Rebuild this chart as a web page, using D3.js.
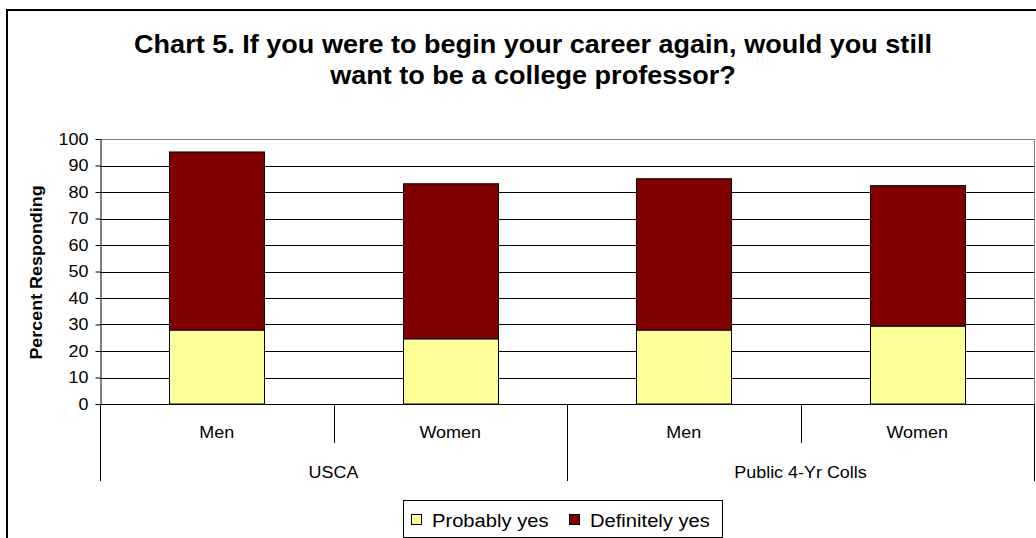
<!DOCTYPE html>
<html>
<head>
<meta charset="utf-8">
<script src="https://cdn.jsdelivr.net/npm/d3@7"></script>
<style>
  html, body { margin: 0; padding: 0; background: #fff; }
  svg { display: block; font-family: "Liberation Sans", Arial, sans-serif; }
</style>
</head>
<body>
<svg id="chart" width="1036" height="538"></svg>
<script>
// Survey responses, percent of faculty
const groups = ["USCA", "USCA", "Public 4-Yr Colls", "Public 4-Yr Colls"];
const genders = ["Men", "Women", "Men", "Women"];
const probablyYes = [27.9, 24.6, 27.9, 29.4];
const definitelyYes = [67.2, 58.5, 57.1, 53.0];
const seriesNames = ["Probably yes", "Definitely yes"];
const seriesColors = ["#FFFF99", "#800000"];
const yTicks = [0, 10, 20, 30, 40, 50, 60, 70, 80, 90, 100];
const titleLines = [
  "Chart 5. If you were to begin your career again, would you still",
  "want to be a college professor?"
];

const svg = d3.select("#chart");
const W = 1036, H = 538;
const plot = { left: 100, right: 1034, top: 139, bottom: 404 };

// Widen rendered text horizontally by a factor
function widen(sel, sx) {
  sel.each(function () {
    const len = this.getComputedTextLength();
    d3.select(this).attr("textLength", len * sx).attr("lengthAdjust", "spacingAndGlyphs");
  });
}

// Outer chart frame
svg.append("rect")
  .attr("x", 7).attr("y", 10)
  .attr("width", W + 20).attr("height", H + 20)
  .attr("fill", "#fff").attr("stroke", "#000").attr("stroke-width", 2);

// Title
const title = svg.append("g").selectAll("text").data(titleLines).join("text")
  .attr("x", 533)
  .attr("y", (d, i) => 53 + i * 31)
  .attr("text-anchor", "middle")
  .attr("font-size", 26)
  .attr("font-weight", "bold")
  .attr("fill", "#000")
  .text(d => d);
widen(title, 1.04);

const keys = genders.map((g, i) => i);
const x = d3.scaleBand()
  .domain(keys)
  .range([plot.left, plot.right])
  .paddingInner(0.595)
  .paddingOuter(0.2975);
const y = d3.scaleLinear().domain([0, 100]).range([plot.bottom, plot.top]);

// Gridlines
svg.append("g").selectAll("line").data(yTicks.filter(t => t > 0 && t < 100)).join("line")
  .attr("x1", plot.left).attr("x2", plot.right)
  .attr("y1", d => Math.round(y(d)) + 0.5).attr("y2", d => Math.round(y(d)) + 0.5)
  .attr("stroke", "#000").attr("stroke-width", 1);

// Plot area border (top and right)
svg.append("path")
  .attr("d", `M${plot.left},${plot.top + 0.5}H${plot.right + 0.5}V${plot.bottom}`)
  .attr("fill", "none").attr("stroke", "#808080").attr("stroke-width", 1);

// Stacked bars
const stackData = keys.map(i => ({ key: i, p: probablyYes[i], d: definitelyYes[i] }));
const stack = d3.stack().keys(["p", "d"])(stackData);
svg.append("g").selectAll("g").data(stack).join("g")
  .attr("fill", (s, i) => seriesColors[i])
  .selectAll("rect").data(s => s).join("rect")
  .attr("x", d => Math.round(x(d.data.key)) + 0.5)
  .attr("width", Math.round(x.bandwidth()))
  .attr("y", d => y(d[1]))
  .attr("height", d => y(d[0]) - y(d[1]))
  .attr("stroke", "#000").attr("stroke-width", 1);

// Y axis
const yAxis = svg.append("g")
  .attr("transform", `translate(${plot.left + 0.5},0)`)
  .call(d3.axisLeft(y).tickValues(yTicks).tickSize(5).tickPadding(7).tickSizeOuter(0));
yAxis.select(".domain").attr("stroke", "#000");
yAxis.selectAll(".tick line").attr("stroke", "#000");
yAxis.selectAll(".tick text")
  .attr("font-size", 16).attr("fill", "#000")
  .attr("font-family", "Liberation Sans, Arial, sans-serif");
widen(yAxis.selectAll(".tick text"), 1.12);

// Y axis title
const yTitle = svg.append("text")
  .attr("transform", `translate(42,${(plot.top + plot.bottom) / 2 + 1}) rotate(-90)`)
  .attr("text-anchor", "middle")
  .attr("font-size", 16)
  .attr("font-weight", "bold")
  .text("Percent Responding");
widen(yTitle, 1.12);

// Category axis: baseline and dividers
svg.append("line")
  .attr("x1", plot.left).attr("x2", plot.right + 1)
  .attr("y1", plot.bottom + 0.5).attr("y2", plot.bottom + 0.5)
  .attr("stroke", "#000");

const step = x.step();
const edges = d3.range(keys.length + 1).map(k => plot.left + k * step);
svg.append("g").selectAll("line").data(edges).join("line")
  .attr("x1", d => Math.round(d) + 0.5).attr("x2", d => Math.round(d) + 0.5)
  .attr("y1", plot.bottom)
  .attr("y2", (d, k) => (k === 0 || k === keys.length || groups[k] !== groups[k - 1]) ? 481 : 443)
  .attr("stroke", "#000");

// Gender labels
const catLabels = svg.append("g").selectAll("text").data(keys).join("text")
  .attr("x", i => x(i) + x.bandwidth() / 2)
  .attr("y", 438)
  .attr("text-anchor", "middle")
  .attr("font-size", 16)
  .text(i => genders[i]);
widen(catLabels, 1.12);

// Group labels
const groupNames = Array.from(new Set(groups));
const groupLabels = svg.append("g").selectAll("text").data(groupNames).join("text")
  .attr("x", g => {
    const idx = keys.filter(i => groups[i] === g);
    return (x(idx[0]) + x(idx[idx.length - 1]) + x.bandwidth()) / 2;
  })
  .attr("y", 478)
  .attr("text-anchor", "middle")
  .attr("font-size", 16)
  .text(g => g);
widen(groupLabels, 1.12);

// Legend
const legend = svg.append("g");
legend.append("rect")
  .attr("x", 403.5).attr("y", 500.5).attr("width", 319).attr("height", 37)
  .attr("fill", "#fff").attr("stroke", "#000");
const legendX = [411, 569];
const li = legend.selectAll("g").data(seriesNames).join("g")
  .attr("transform", (d, i) => `translate(${legendX[i]},0)`);
li.append("rect")
  .attr("x", 0.5).attr("y", 514.5).attr("width", 10).attr("height", 10)
  .attr("fill", (d, i) => seriesColors[i]).attr("stroke", "#000");
const lt = li.append("text")
  .attr("x", 21).attr("y", 527)
  .attr("font-size", 18)
  .text(d => d);
widen(lt, 1.12);
</script>
</body>
</html>
